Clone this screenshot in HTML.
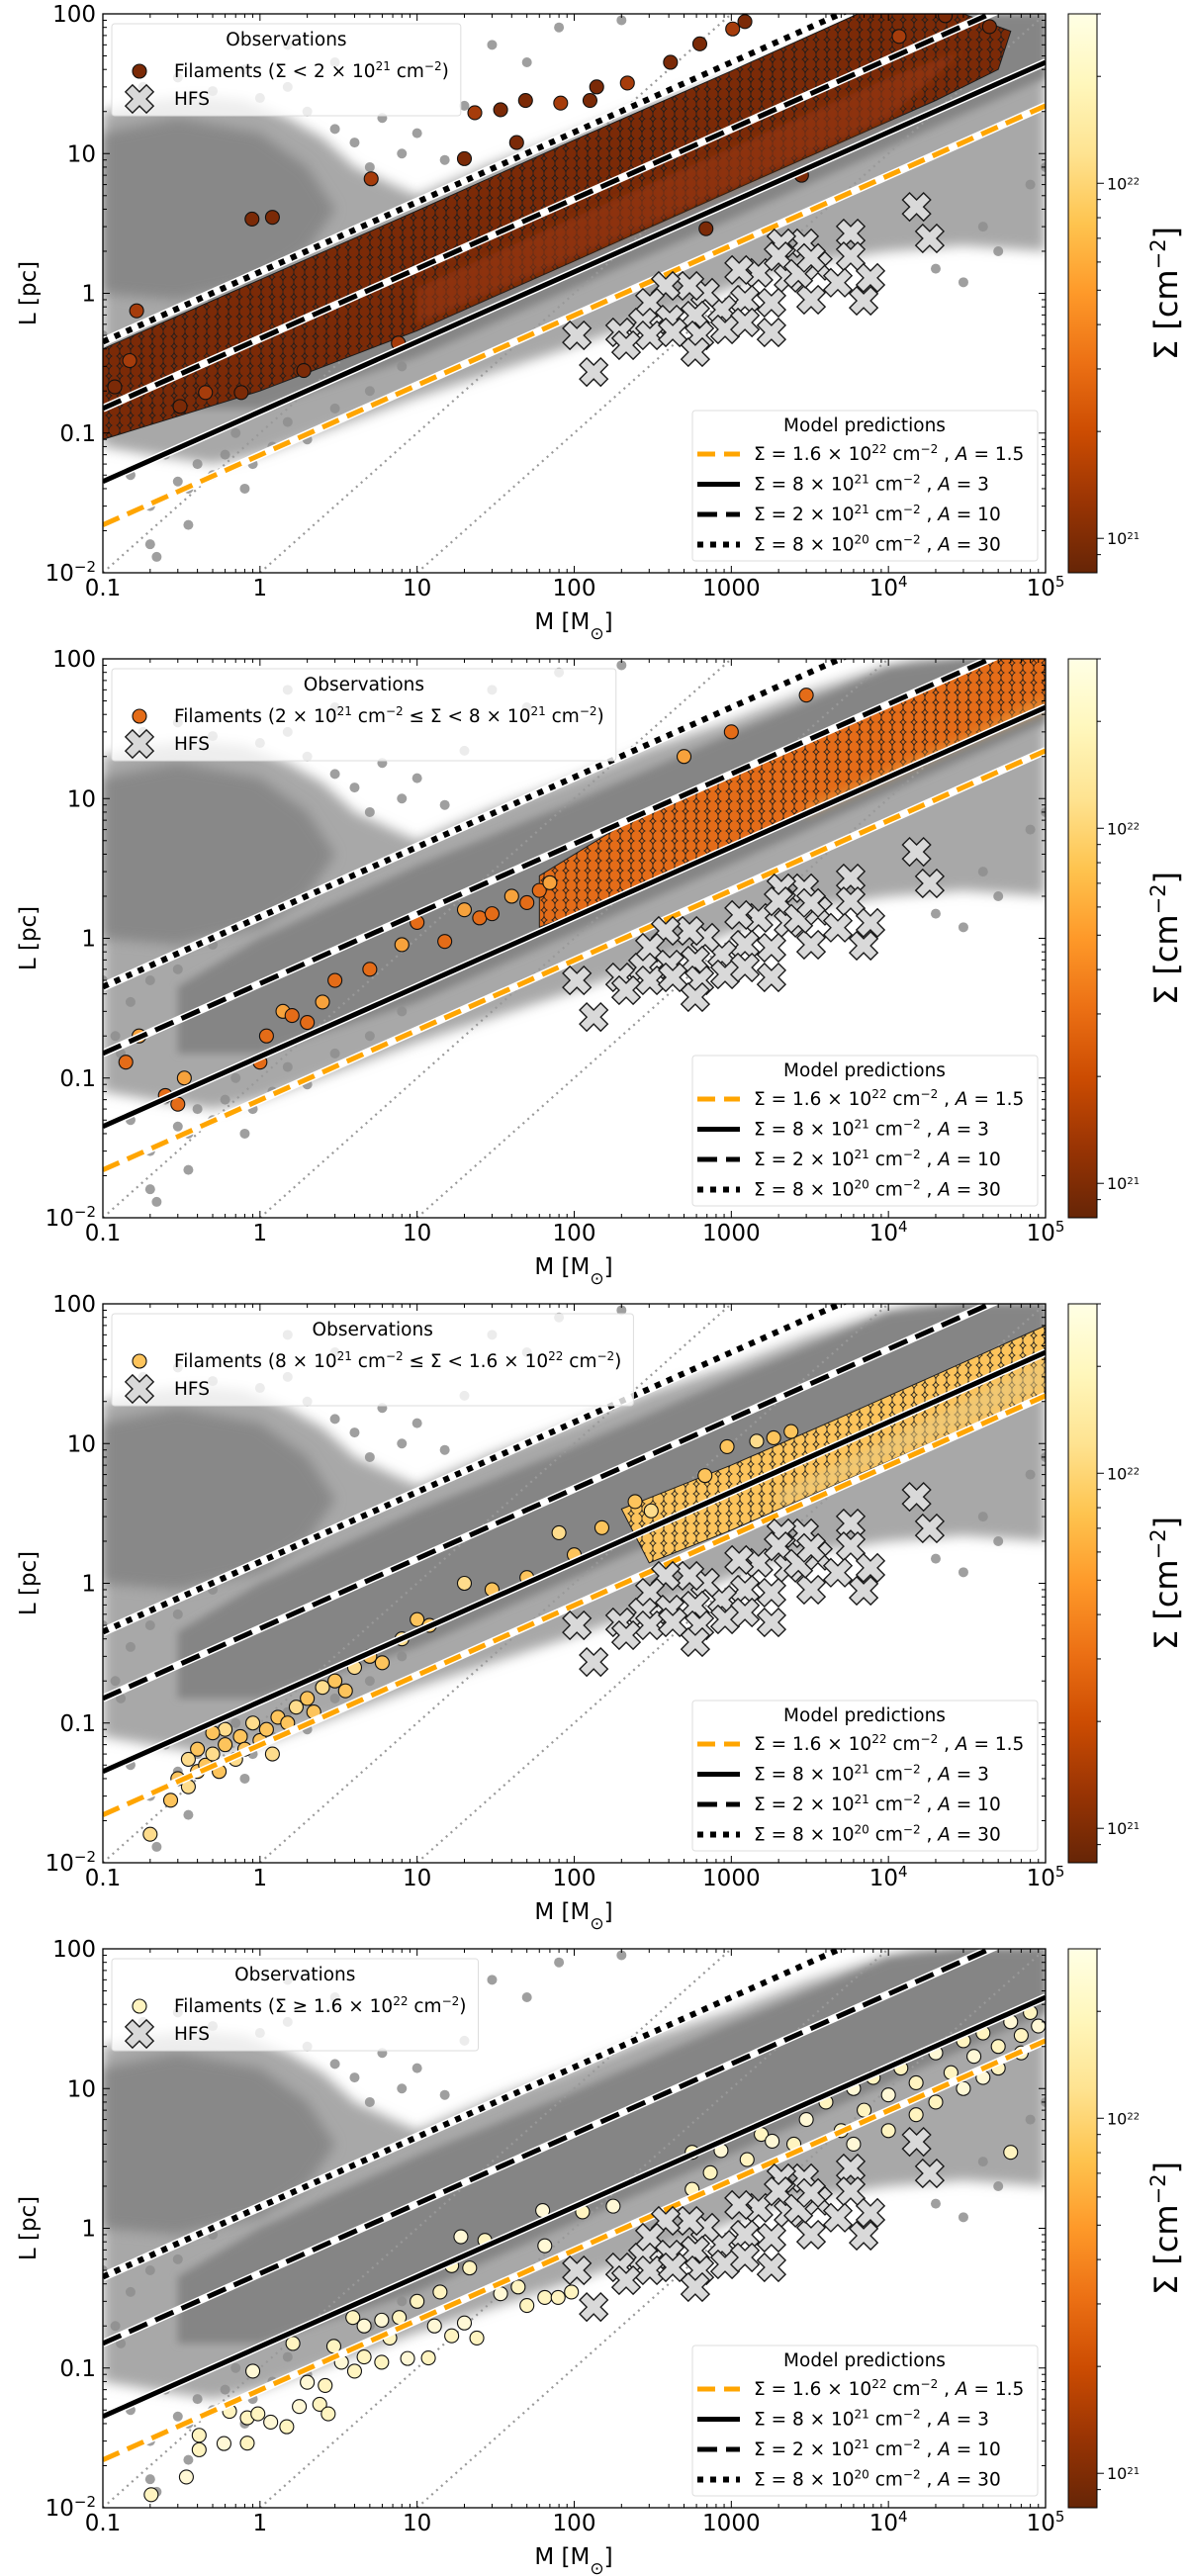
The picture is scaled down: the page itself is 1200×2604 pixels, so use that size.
<!DOCTYPE html>
<html><head><meta charset="utf-8">
<style>
html,body{margin:0;padding:0;background:#fff;}
svg{display:block;font-family:"DejaVu Sans","Liberation Sans",sans-serif;}
</style></head>
<body>
<svg id="fig" xmlns="http://www.w3.org/2000/svg" width="1200" height="2604" viewBox="0 0 1200 2604">
<defs>
<linearGradient id="cbgrad" x1="0" y1="1" x2="0" y2="0">
<stop offset="0" stop-color="#662506"/><stop offset="0.125" stop-color="#993404"/><stop offset="0.25" stop-color="#cc4c02"/><stop offset="0.375" stop-color="#ec7014"/><stop offset="0.5" stop-color="#fe9929"/><stop offset="0.625" stop-color="#fec44f"/><stop offset="0.75" stop-color="#fee391"/><stop offset="0.875" stop-color="#fff7bc"/><stop offset="1" stop-color="#ffffe5"/>
</linearGradient>
<filter id="blurA" x="-30%" y="-30%" width="160%" height="160%"><feGaussianBlur stdDeviation="6"/></filter>
<filter id="blurB" x="-30%" y="-30%" width="160%" height="160%"><feGaussianBlur stdDeviation="4"/></filter>
</defs>
</svg>
<script>
// ---------- data ----------
const xTicks=[0.1,1,10,100,1000,1e4,1e5];
const xTickLabels=['0.1','1','10','100','1000','10^4','10^5'];
const yTicks=[0.01,0.1,1,10,100];
const yTickLabels=['10^-2','0.1','1','10','100'];
// model lines: L at M=0.1, slope 0.5 (log-log)
const modelL01=[0.022,0.045,0.15,0.45];
const modelSlope=0.5;
// grey dotted reference lines: mass where L=0.01, slope 1
const refLineM0=[0.1,1,10];
// HFS
const hfsM=[18300,15100,5750,2910,2080,5750,3560,7690,2310,4760,1490,1120,3220,6950,1800,1220,873,682,542,382,303,590,405,274,196,303,424,627,912,1220,1800,214,590,104,133,2000,2670,3220];
const hfsL=[2.47,4.16,2.68,2.28,2.28,1.84,1.57,1.29,1.29,1.19,1.40,1.47,0.90,0.885,0.857,0.90,0.763,1.01,1.13,1.13,0.857,0.693,0.649,0.618,0.525,0.50,0.525,0.50,0.552,0.618,0.525,0.425,0.379,0.50,0.273,1.84,1.38,1.79];
// grey cloud (all sources) envelope
const cloudOuterM=[0.1,0.2,0.4,0.8,1.5,2.5,4,10,30,100,300,1000,3000,10000,15000,100000,100000,30000,10000,2400,1000,300,100,30,10,3,1,0.5,0.2,0.1];
const cloudOuterL=[20,24,26,24,18,13,8,5,8.5,14,23,36,58,90,100,100,2,2.2,2,1.6,1.1,0.65,0.42,0.27,0.18,0.11,0.07,0.06,0.07,0.08];
const blobInnerM=[0.1,0.3,1,2,3,2,1,0.3,0.1];
const blobInnerL=[14,18,14,8,4,2,1.2,0.9,1];
const bandInnerM=[0.3,1,10,100,1000,10000,30000,100000,100000,10000,1000,100,10,1,0.3];
const bandInnerL=[0.45,1.0,3.3,9.5,29,85,100,100,35,11,3.4,1.1,0.35,0.15,0.15];
const scatM=[0.15,0.2,0.2,0.22,0.3,0.35,0.4,0.5,0.6,0.8,0.9,1.2,1.5,2,0.25,0.35,0.7,3,5,8,0.12,0.15,0.2,0.3,0.5,0.18,0.3,0.5,0.8,1,1.5,2,3,4,5,6,8,10,15,20,20000,30000,50000,40000,80000,100000,1.5,3,30,50,80,200,0.1,0.13];
const scatL=[0.05,0.03,0.016,0.013,0.045,0.04,0.06,0.05,0.07,0.04,0.06,0.08,0.12,0.09,0.07,0.022,0.1,0.15,0.2,0.3,0.2,0.35,0.5,0.6,0.9,30,35,28,40,25,30,20,15,12,8,18,10,14,9,22,1.5,1.2,2,3,6,8,60,45,60,45,80,90,0.5,0.15];
// filament classes: dense bands (envelopes) + individual points
const band1M=[0.1,1,10,100,1000,6400,30000,60000,50000,20000,1000,100,10,1,0.1];
const band1L=[0.4,1.25,3.9,12.5,39,100,100,75,40,24,5.4,1.7,0.54,0.2,0.09];
const band1bM=[10,100,1000,10000,30000,10000,1000,100,10];
const band1bL=[1.1,3.5,11,35,55,18,5.6,1.8,0.6];
const band2M=[60,300,1000,10000,40000,100000,100000,30000,10000,1000,200,60];
const band2L=[2.8,8.5,16,50,100,100,45,24,14,4.5,2.0,1.2];
const band2bM=[3000,30000,100000,100000,30000,3000];
const band2bL=[9,28,55,42,24,7.5];
const band3M=[200,1000,5000,20000,100000,100000,20000,5000,1000,300];
const band3L=[3.4,7,15.5,31,70,23,10.5,5.3,2.4,1.4];
const band3bM=[2000,20000,100000,100000,20000,2000];
const band3bL=[4.5,16,40,25,11,3.5];
const fil1M=[1220,1020,630,410,218,139,126,82,49,34,23.3,43,20,5.1,1.2,0.89,0.164,44000,23000,11700,2800,690,7.6,1.9,0.76,0.45,0.31,0.119,0.148];
const fil1L=[88,78,61,45,32,30,24,23,24,20.6,19.6,12,9.2,6.6,3.5,3.4,0.75,81,97,69,7.0,2.9,0.44,0.28,0.195,0.195,0.155,0.214,0.33];
const fil2M=[0.14,0.17,0.25,0.3,0.33,1,1.1,1.4,1.6,2,2.5,3,5,8,10,15,20,25,30,40,50,60,70,1000,3000,500];
const fil2L=[0.13,0.2,0.075,0.065,0.1,0.13,0.2,0.3,0.28,0.25,0.35,0.5,0.6,0.9,1.3,0.95,1.6,1.4,1.5,2,1.8,2.2,2.5,30,55,20];
const fil3M=[244,309,680,940,1450,1860,2400,0.2,0.27,0.3,0.35,0.4,0.45,0.5,0.55,0.6,0.7,0.75,0.8,0.9,1,1.1,1.2,1.3,1.5,1.7,2,2.2,2.5,3,3.5,4,5,6,8,10,12,20,30,50,80,100,150,0.6,0.5,0.4,0.35];
const fil3L=[3.84,3.3,5.9,9.5,10.4,11,12.2,0.016,0.028,0.04,0.035,0.045,0.05,0.06,0.045,0.07,0.055,0.08,0.065,0.1,0.075,0.09,0.06,0.11,0.1,0.13,0.15,0.12,0.18,0.2,0.17,0.25,0.3,0.27,0.4,0.55,0.5,1.0,0.9,1.1,2.3,1.6,2.5,0.09,0.085,0.065,0.055];
const fil4M=[0.203,0.34,0.41,0.41,0.59,0.83,0.64,0.9,0.83,0.97,1.17,1.48,1.62,1.78,2.4,2.72,2.0,2.6,2.95,3.3,3.9,4.0,4.6,4.6,5.95,5.95,7.7,6.7,8.7,10,11.8,12.9,14,16.6,20,24,16.6,19,21.6,27,34,44,50,65,65,79,63,96,113,177,563,735,860,1260,1550,1820,563,400,3000,4000,5000,6000,7000,8000,10000,12000,15000,20000,25000,30000,35000,40000,50000,60000,70000,80000,90000,2500,20000,30000,50000,70000,6000,10000,15000,40000,60000];
const fil4L=[0.0124,0.0166,0.026,0.033,0.0288,0.029,0.049,0.095,0.044,0.047,0.041,0.038,0.15,0.053,0.055,0.047,0.079,0.075,0.143,0.11,0.23,0.095,0.2,0.12,0.11,0.22,0.23,0.164,0.117,0.3,0.118,0.2,0.35,0.17,0.21,0.164,0.54,0.87,0.52,0.82,0.34,0.38,0.28,0.75,0.32,0.32,1.34,0.35,1.31,1.44,3.5,2.5,3.6,3.1,4.7,4.2,1.9,1.28,6,8,5,10,7,12,9,14,11,18,13,22,17,25,20,30,24,35,28,4,8,10,14,18,4,5,6.5,12,3.5];
const cbTicks=[1e21,1e22];
const cbTickLabels=['21','22'];
const cbMinorTicks=[9e20,2e21,3e21,4e21,5e21,6e21,7e21,8e21,9e21,2e22,3e22];

// ---------- helpers ----------
const NS='http://www.w3.org/2000/svg';
const svg=document.getElementById('fig');
function mk(tag,attrs,parent){const e=document.createElementNS(NS,tag);for(const k in attrs)e.setAttribute(k,attrs[k]);(parent||svg).appendChild(e);return e;}
const X0=104,X1=1057,H=565,DX=(X1-X0)/6,DY=H/4;
const X=m=>X0+(Math.log10(m)+1)*DX;
const Y=(T,l)=>T+(2-Math.log10(l))*DY;
const sup=(s,fs)=>`<tspan baseline-shift="super" font-size="${fs||12}">${s}</tspan>`;
function fmt(lbl,fs){if(lbl.indexOf('^')<0)return lbl;const [b,e]=lbl.split('^');return b+sup(e.replace('-','−'),fs);}
function polyPts(T,M,L){return M.map((m,i)=>X(m).toFixed(1)+','+Y(T,L[i]).toFixed(1)).join(' ');}

const cbLo=Math.log10(8e20),cbHi=Math.log10(3e22);
const panelColor=['#7b2a07','#e46c18','#fdc45c','#fff4c0'];
const panelColor2=['#a63c0b','#f7a23c','#fedc8c','#fff8d6'];
const filM=[fil1M,fil2M,fil3M,fil4M],filL=[fil1L,fil2L,fil3L,fil4L];
const bandM=[band1M,band2M,band3M,null],bandL=[band1L,band2L,band3L,null];
const bandbM=[band1bM,band2bM,band3bM,null],bandbL=[band1bL,band2bL,band3bL,null];
const legendText=[
 'Filaments (Σ &lt; 2 × 10'+sup('21')+' cm'+sup('−2')+')',
 'Filaments (2 × 10'+sup('21')+' cm'+sup('−2')+' ≤ Σ &lt; 8 × 10'+sup('21')+' cm'+sup('−2')+')',
 'Filaments (8 × 10'+sup('21')+' cm'+sup('−2')+' ≤ Σ &lt; 1.6 × 10'+sup('22')+' cm'+sup('−2')+')',
 'Filaments (Σ ≥ 1.6 × 10'+sup('22')+' cm'+sup('−2')+')'];
const modelText=[
 'Σ = 1.6 × 10'+sup('22')+' cm'+sup('−2')+' , <tspan font-style="italic">A</tspan> = 1.5',
 'Σ = 8 × 10'+sup('21')+' cm'+sup('−2')+' , <tspan font-style="italic">A</tspan> = 3',
 'Σ = 2 × 10'+sup('21')+' cm'+sup('−2')+' , <tspan font-style="italic">A</tspan> = 10',
 'Σ = 8 × 10'+sup('20')+' cm'+sup('−2')+' , <tspan font-style="italic">A</tspan> = 30'];
const modelStyle=[{c:'#ffa500',w:5,d:'18 9'},{c:'#000',w:5,d:''},{c:'#000',w:5,d:'20 9'},{c:'#000',w:6,d:'6 7'}];
const defs=svg.querySelector('defs');

function crossPath(){const a=15,b=5;return `M${b},${a}L${b},${b}L${a},${b}L${a},${-b}L${b},${-b}L${b},${-a}L${-b},${-a}L${-b},${-b}L${-a},${-b}L${-a},${b}L${-b},${b}L${-b},${a}Z`;}

for(let p=0;p<4;p++){
 const T=14+652*p;
 const g=mk('g',{});
 
 
 const cp=mk('clipPath',{id:'clip'+p},defs);
 mk('rect',{x:X0,y:T,width:X1-X0,height:H},cp);
 const pat=mk('pattern',{id:'pat'+p,width:11,height:10,patternUnits:'userSpaceOnUse'},defs);
 mk('rect',{x:0,y:0,width:11,height:10,fill:panelColor[p]},pat);
 [[0,0],[11,0],[0,10],[11,10],[5.5,5]].forEach(c=>mk('circle',{cx:c[0],cy:c[1],r:5.6,fill:panelColor[p],stroke:'#1c1c1c','stroke-width':0.8},pat));
 const patb=mk('pattern',{id:'patb'+p,width:11,height:10,patternUnits:'userSpaceOnUse'},defs);
 mk('rect',{x:0,y:0,width:11,height:10,fill:panelColor2[p]},patb);
 [[0,0],[11,0],[0,10],[11,10],[5.5,5]].forEach(c=>mk('circle',{cx:c[0],cy:c[1],r:5.6,fill:panelColor2[p],stroke:'#1c1c1c','stroke-width':0.8},patb));

 const pg=mk('g',{'clip-path':`url(#clip${p})`},g);
 
 
 const co=mk('polygon',{points:polyPts(T,cloudOuterM,cloudOuterL),fill:'#a8a8a8',filter:'url(#blurA)'},pg);
 
 
 const cbl=mk('polygon',{points:polyPts(T,blobInnerM,blobInnerL),fill:'#888',filter:'url(#blurA)'},pg);
 
 
 const ci=mk('polygon',{points:polyPts(T,bandInnerM,bandInnerL),fill:'#858585',filter:'url(#blurB)'},pg);
 
 
 scatM.forEach((m,i)=>{const c=mk('circle',{cx:X(m),cy:Y(T,scatL[i]),r:5,fill:'#8e8e8e','fill-opacity':0.85},pg);
  
  });
 refLineM0.forEach(m0=>{const l=mk('line',{x1:X(m0),y1:Y(T,0.01),x2:X(m0*1e5),y2:Y(T,1000),stroke:'#999','stroke-width':2.2,'stroke-dasharray':'2 4.5'},pg);
  
  });
 if(bandM[p]){
  const b=mk('polygon',{points:polyPts(T,bandM[p],bandL[p]),fill:`url(#pat${p})`,stroke:'#1c1c1c','stroke-width':1},pg);
  
  
  const b2=mk('polygon',{points:polyPts(T,bandbM[p],bandbL[p]),fill:`url(#patb${p})`,filter:'url(#blurB)','fill-opacity':0.6},pg);
  
  
 }
 filM[p].forEach((m,i)=>{const c=mk('circle',{cx:X(m),cy:Y(T,filL[p][i]),r:7,fill:(i%3==1?panelColor2[p]:panelColor[p]),stroke:'#111','stroke-width':1.1},pg);
  
  });
 modelL01.forEach((l0,i)=>{const st=modelStyle[i];
  const x1=X(0.1),y1=Y(T,l0),x2=X(1e5),y2=Y(T,l0*Math.pow(1e6,modelSlope));
  const wl=mk('line',{x1,y1,x2,y2,stroke:'#fff','stroke-width':st.w+3},pg);
  
  
  const ml=mk('line',{x1,y1,x2,y2,stroke:st.c,'stroke-width':st.w,'stroke-dasharray':st.d},pg);
  
  });
 hfsM.forEach((m,i)=>{const h=mk('path',{d:crossPath(),transform:`translate(${X(m).toFixed(1)},${Y(T,hfsL[i]).toFixed(1)}) rotate(45)`,fill:'#d9d9d9',stroke:'#1a1a1a','stroke-width':1.4},pg);
  
  });

 const fr=mk('rect',{x:X0,y:T,width:X1-X0,height:H,fill:'none',stroke:'#000','stroke-width':1.3},g);
 
 
 for(let d=-1;d<=5;d++){for(let k=1;k<10;k++){const v=k*Math.pow(10,d);if(v>1e5)break;const x=X(v);const len=k==1?7:4;
  mk('line',{x1:x,y1:T+H,x2:x,y2:T+H-len,stroke:'#000','stroke-width':1},g);
  mk('line',{x1:x,y1:T,x2:x,y2:T+len,stroke:'#000','stroke-width':1},g);}}
 xTicks.forEach((v,i)=>{const t=mk('text',{x:X(v),y:T+H+23,'text-anchor':'middle','font-size':23},g);
  t.innerHTML=fmt(xTickLabels[i],15);
  
  });
 for(let d=-2;d<=2;d++){for(let k=1;k<10;k++){const v=k*Math.pow(10,d);if(v>100)break;const y=Y(T,v);const len=k==1?7:4;
  mk('line',{x1:X0,y1:y,x2:X0+len,y2:y,stroke:'#000','stroke-width':1},g);
  mk('line',{x1:X1,y1:y,x2:X1-len,y2:y,stroke:'#000','stroke-width':1},g);}}
 yTicks.forEach((v,i)=>{const t=mk('text',{x:97,y:Y(T,v)+8,'text-anchor':'end','font-size':23},g);
  t.innerHTML=fmt(yTickLabels[i],15);
  
  });
 const xt=mk('text',{x:580,y:T+H+57,'text-anchor':'middle','font-size':23},g);
 xt.innerHTML='M [M<tspan baseline-shift="sub" font-size="17">⊙</tspan>]';
 
 
 const yt=mk('text',{x:0,y:0,'text-anchor':'middle','font-size':23,transform:`translate(36,${T+H/2}) rotate(-90)`},g);
 yt.textContent='L [pc]';
 
 

 const lg=mk('g',{},g);
 
 
 const lbox=mk('rect',{x:113,y:T+10,width:300,height:93,rx:3,fill:'#fff','fill-opacity':0.8,stroke:'#ddd','stroke-width':1},lg);
 const lt=mk('text',{x:176,y:T+64,'font-size':18.5},lg);
 lt.innerHTML=legendText[p];
 const lm=mk('circle',{cx:141,cy:T+58,r:7,fill:panelColor[p],stroke:'#111','stroke-width':1.1},lg);
 
 
 const lh=mk('path',{d:crossPath(),transform:`translate(141,${T+86}) rotate(45)`,fill:'#d9d9d9',stroke:'#1a1a1a','stroke-width':1.4},lg);
 
 
 const ht=mk('text',{x:176,y:T+92,'font-size':18.5},lg);
 ht.textContent='HFS';
 const w=176+lt.getComputedTextLength()+12-113;
 lbox.setAttribute('width',Math.max(w,200));
 const ot=mk('text',{x:113+Math.max(w,200)/2,y:T+32,'text-anchor':'middle','font-size':18.5},lg);
 ot.textContent='Observations';

 const mg=mk('g',{},g);
 
 
 mk('rect',{x:700,y:T+401,width:349,height:152,rx:3,fill:'#fff','fill-opacity':0.85,stroke:'#ddd','stroke-width':1},mg);
 const mt=mk('text',{x:874,y:T+422,'text-anchor':'middle','font-size':18.5},mg);
 mt.textContent='Model predictions';
 modelStyle.forEach((st,i)=>{const cy=T+445+i*30.5;
  mk('line',{x1:705,y1:cy,x2:748,y2:cy,stroke:st.c,'stroke-width':st.w,'stroke-dasharray':st.d},mg);
  const t=mk('text',{x:762,y:cy+6,'font-size':18.5},mg);
  t.innerHTML=modelText[i];
  
  });

 const cb=mk('g',{},g);
 
 
 mk('rect',{x:1080,y:T,width:29,height:H,fill:'url(#cbgrad)',stroke:'#000','stroke-width':1},cb);
 const cbY=v=>T+(cbHi-Math.log10(v))/(cbHi-cbLo)*H;
 cbMinorTicks.forEach(v=>mk('line',{x1:1109,y1:cbY(v),x2:1113,y2:cbY(v),stroke:'#000','stroke-width':1},cb));
 cbTicks.forEach((v,i)=>{mk('line',{x1:1109,y1:cbY(v),x2:1116,y2:cbY(v),stroke:'#000','stroke-width':1},cb);
  const t=mk('text',{x:1119,y:cbY(v)+6,'font-size':16},cb);
  t.innerHTML='10'+sup(cbTickLabels[i],10);
  
  });
 const cl=mk('text',{x:0,y:0,'text-anchor':'middle','font-size':32,transform:`translate(1190,${T+H/2}) rotate(-90)`},cb);
 cl.innerHTML='Σ [cm'+sup('−2',21)+']';
 
 
}
</script>
</body></html>
